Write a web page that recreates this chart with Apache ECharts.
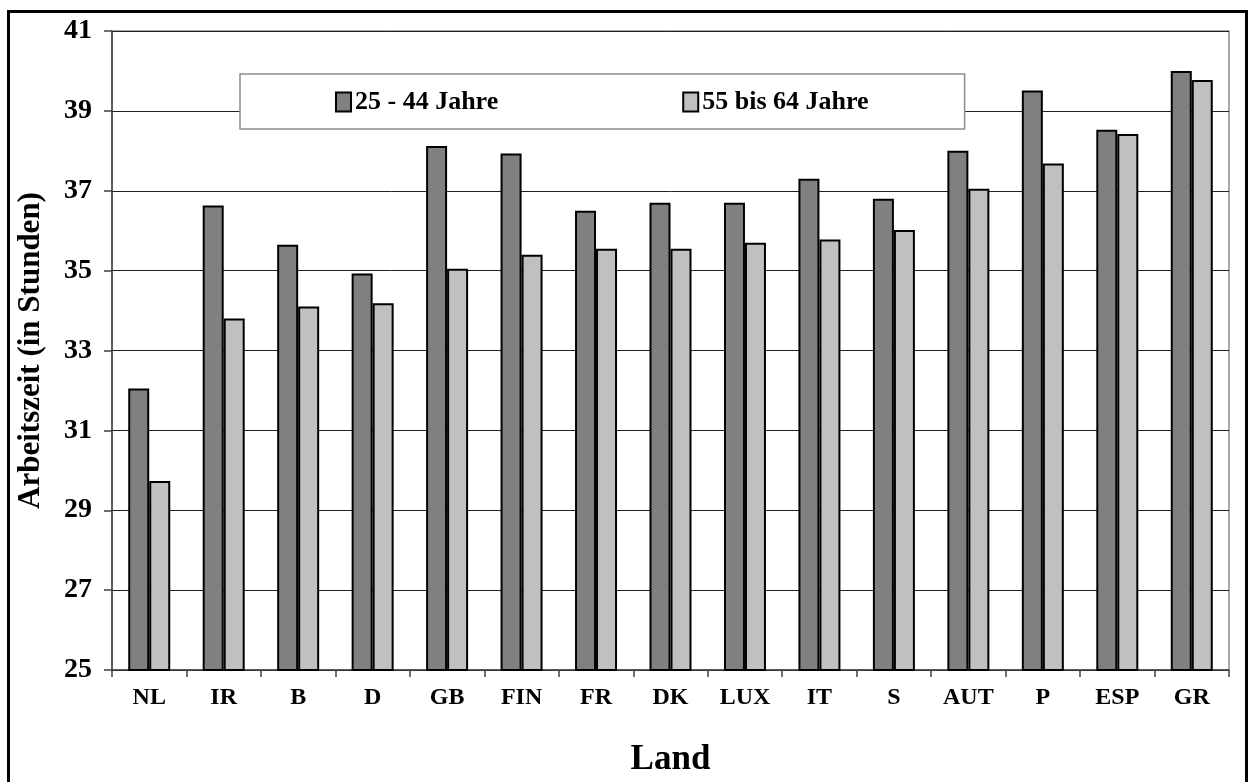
<!DOCTYPE html>
<html>
<head>
<meta charset="utf-8">
<script src="https://cdn.jsdelivr.net/npm/echarts@6/dist/echarts.min.js"></script>
<style>
html,body{margin:0;padding:0;background:#fff;}
#chart{width:1250px;height:782px;}
</style>
</head>
<body>
<div id="chart"></div>
<script>
const categories = ['NL','IR','B','D','GB','FIN','FR','DK','LUX','IT','S','AUT','P','ESP','GR'];
const seriesNames = ['25 - 44 Jahre', '55 bis 64 Jahre'];
const young = [32.05, 36.63, 35.65, 34.93, 38.12, 37.93, 36.5, 36.7, 36.7, 37.3, 36.8, 38.0, 39.51, 38.53, 40.0];
const old = [29.73, 33.8, 34.1, 34.18, 35.05, 35.4, 35.55, 35.55, 35.7, 35.78, 36.02, 37.05, 37.68, 38.42, 39.77];
const yTicks = { min: 25, max: 41, interval: 2 };

const FONT = '"Liberation Serif", "Times New Roman", serif';
const chart = echarts.init(document.getElementById('chart'));
chart.setOption({
  animation: false,
  backgroundColor: '#ffffff',
  textStyle: { fontFamily: FONT },
  graphic: [{
    type: 'rect',
    shape: { x: 8.5, y: 11.5, width: 1238, height: 800 },
    style: { fill: 'none', stroke: '#000', lineWidth: 3 },
    silent: true, z: 100
  }],
  grid: {
    left: 112, right: 21, top: 31, bottom: 107,
    show: true, borderColor: '#8c8c8c', borderWidth: 1.5, backgroundColor: 'transparent'
  },
  legend: {
    data: seriesNames,
    icon: 'rect',
    left: 240, top: 74,
    padding: [15, 96, 14, 95],
    itemGap: 184,
    itemWidth: 15, itemHeight: 19,
    backgroundColor: '#ffffff',
    borderColor: '#8c8c8c', borderWidth: 1.5,
    textStyle: { fontFamily: FONT, fontWeight: 'bold', fontSize: 26, color: '#000', padding: [0,0,0,-1] }
  },
  xAxis: {
    type: 'category',
    data: categories,
    boundaryGap: true,
    axisLine: { lineStyle: { color: '#404040', width: 1.5 } },
    axisTick: { show: true, length: 7, lineStyle: { color: '#404040', width: 1.5 } },
    axisLabel: { fontFamily: FONT, fontWeight: 'bold', fontSize: 24, color: '#000', margin: 16, interval: 0 },
    name: 'Land',
    nameLocation: 'middle',
    nameGap: 72,
    nameTextStyle: { fontFamily: FONT, fontWeight: 'bold', fontSize: 35, color: '#000' }
  },
  yAxis: {
    type: 'value',
    min: yTicks.min, max: yTicks.max, interval: yTicks.interval,
    axisLine: { show: true, lineStyle: { color: '#404040', width: 1.5 } },
    axisTick: { show: true, length: 8, lineStyle: { color: '#404040', width: 1.5 } },
    axisLabel: { fontFamily: FONT, fontWeight: 'bold', fontSize: 28, color: '#000', margin: 20 },
    splitLine: { show: true, lineStyle: { color: '#222', width: 1 } },
    name: 'Arbeitszeit (in Stunden)',
    nameLocation: 'middle',
    nameRotate: 90,
    nameGap: 66,
    nameTextStyle: { fontFamily: FONT, fontWeight: 'bold', fontSize: 31, color: '#000' }
  },
  series: [
    {
      name: seriesNames[0], type: 'bar', data: young,
      barWidth: 21, barGap: '0%',
      itemStyle: { color: '#808080', borderColor: '#000', borderWidth: 2 }
    },
    {
      name: seriesNames[1], type: 'bar', data: old,
      barWidth: 21, barGap: '0%',
      itemStyle: { color: '#c0c0c0', borderColor: '#000', borderWidth: 2 }
    }
  ]
});
</script>
</body>
</html>
